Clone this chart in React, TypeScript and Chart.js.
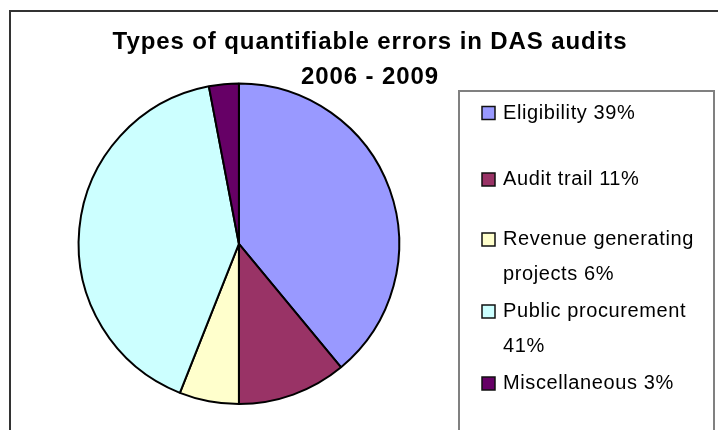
import React, { useEffect, useRef } from "react";
import { Chart, registerables } from "chart.js";

Chart.register(...registerables);

// ---- data ----
const categories = [
  "Eligibility",
  "Audit trail",
  "Revenue generating projects",
  "Public procurement",
  "Miscellaneous",
];
const shares = [39, 11, 6, 41, 3];
const sliceColors = ["#9999FF", "#993366", "#FFFFCC", "#CCFFFF", "#660066"];
const titleLines = ["Types of quantifiable errors in DAS audits", "2006 - 2009"];

// ---- layout / style ----
const FONT = "'Liberation Sans', Arial, Helvetica, sans-serif";
const W = 718;
const H = 430;
const TITLE = { cx: 370, baselines: [48.5, 83.5], size: 24, spacing: "0.9px" };
const LEGEND = {
  boxLeft: 459,
  boxTop: 91,
  boxRight: 714,
  swatchX: 482,
  swatchSize: 13,
  textX: 503,
  itemBaselines: [118.5, 185, 245, 317, 389],
  lineHeight: 34.5,
  size: 20,
  spacing: "0.6px",
  maxWidth: 205,
};

function wrap(ctx: CanvasRenderingContext2D, text: string, maxWidth: number): string[] {
  const words = text.split(" ");
  const lines: string[] = [];
  let cur = "";
  for (const w of words) {
    const test = cur ? cur + " " + w : w;
    if (cur && ctx.measureText(test).width > maxWidth) {
      lines.push(cur);
      cur = w;
    } else {
      cur = test;
    }
  }
  if (cur) lines.push(cur);
  return lines;
}

const decorPlugin = {
  id: "decor",
  beforeDraw(chart: any) {
    const ctx: CanvasRenderingContext2D = chart.ctx;
    ctx.save();
    ctx.fillStyle = "#ffffff";
    ctx.fillRect(0, 0, chart.width, chart.height);
    // outer chart frame
    ctx.strokeStyle = "#333333";
    ctx.lineWidth = 2;
    ctx.strokeRect(10, 11, chart.width + 20, chart.height + 20);
    // legend box
    ctx.strokeStyle = "#808080";
    ctx.strokeRect(
      LEGEND.boxLeft,
      LEGEND.boxTop,
      LEGEND.boxRight - LEGEND.boxLeft,
      chart.height + 20
    );
    ctx.restore();
  },
  afterDraw(chart: any) {
    const ctx: any = chart.ctx;
    ctx.save();
    // title
    ctx.fillStyle = "#000000";
    ctx.font = `bold ${TITLE.size}px ${FONT}`;
    ctx.letterSpacing = TITLE.spacing;
    ctx.textAlign = "center";
    ctx.textBaseline = "alphabetic";
    titleLines.forEach((t, i) => ctx.fillText(t, TITLE.cx, TITLE.baselines[i]));

    // legend
    ctx.font = `${LEGEND.size}px ${FONT}`;
    ctx.letterSpacing = LEGEND.spacing;
    ctx.textAlign = "left";
    const labels: string[] = chart.data.labels;
    const values: number[] = chart.data.datasets[0].data;
    const colors: string[] = chart.data.datasets[0].backgroundColor;
    labels.forEach((lab, i) => {
      const base = LEGEND.itemBaselines[i];
      const text = `${lab} ${values[i]}%`;
      const lines = wrap(ctx, text, LEGEND.maxWidth);
      // swatch
      const s = LEGEND.swatchSize;
      ctx.fillStyle = colors[i];
      ctx.fillRect(LEGEND.swatchX, base - s + 1, s, s);
      ctx.strokeStyle = "#111111";
      ctx.lineWidth = 1.5;
      ctx.strokeRect(LEGEND.swatchX, base - s + 1, s, s);
      ctx.fillStyle = "#000000";
      lines.forEach((ln, j) => ctx.fillText(ln, LEGEND.textX, base + j * LEGEND.lineHeight));
    });
    ctx.restore();
  },
};

export default function App() {
  const ref = useRef<HTMLCanvasElement | null>(null);
  useEffect(() => {
    if (!ref.current) return;
    const chart = new Chart(ref.current, {
      type: "pie",
      data: {
        labels: categories,
        datasets: [
          {
            data: shares,
            backgroundColor: sliceColors,
            borderColor: "#000000",
            borderWidth: 2,
          },
        ],
      },
      options: {
        animation: false,
        responsive: false,
        devicePixelRatio: 1,
        layout: {
          padding: { left: 77.6, top: 82.5, right: 317.8, bottom: 24.9 },
        },
        plugins: {
          legend: { display: false },
          title: { display: false },
          tooltip: { enabled: false },
        },
      },
      plugins: [decorPlugin],
    });
    return () => chart.destroy();
  }, []);
  return (
    <div style={{ position: "fixed", left: 0, top: 0, width: W, height: H, background: "#fff" }}>
      <canvas ref={ref} width={W} height={H} style={{ width: W, height: H, display: "block" }} />
    </div>
  );
}
